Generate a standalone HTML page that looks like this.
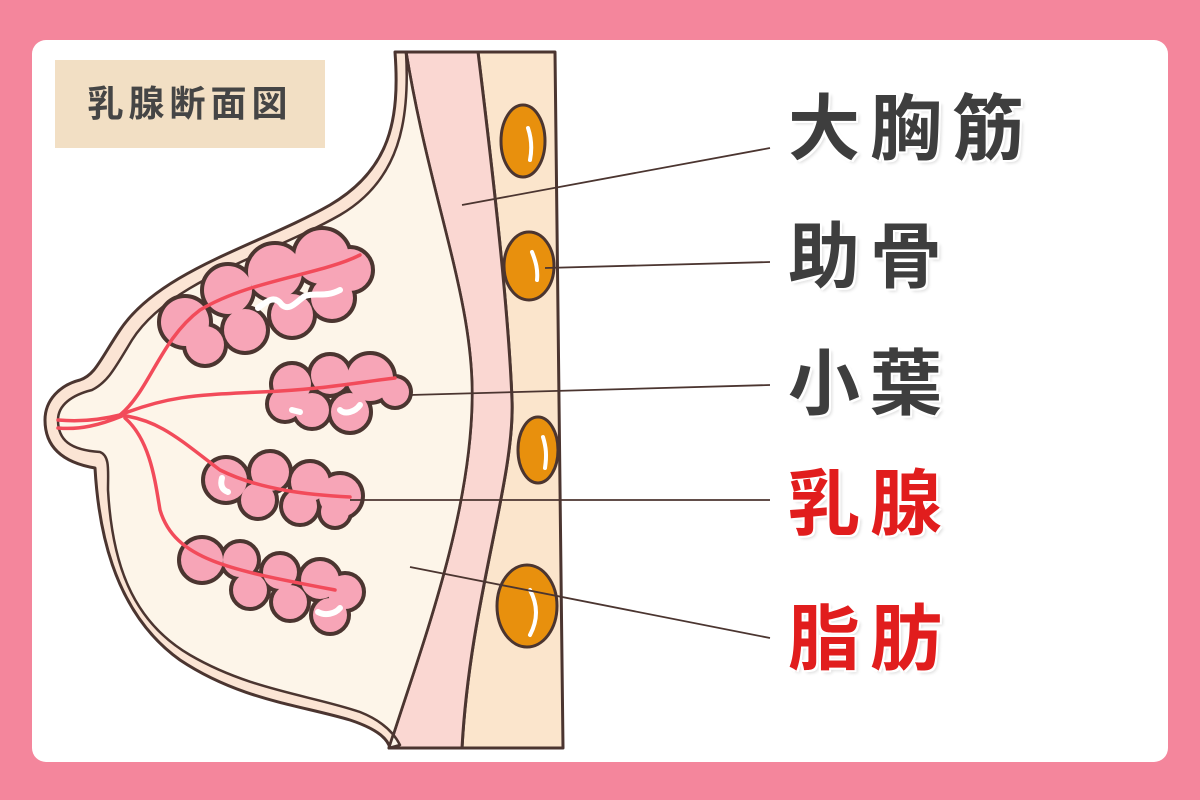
<!DOCTYPE html>
<html><head><meta charset="utf-8"><style>
html,body{margin:0;padding:0;}
body{width:1200px;height:800px;background:#f4869c;position:relative;overflow:hidden;font-family:"Liberation Sans","Noto Sans CJK JP",sans-serif;}
.card{position:absolute;left:32px;top:40px;width:1136px;height:722px;background:#fff;border-radius:14px;}
.title{position:absolute;left:55px;top:60px;width:270px;height:88px;background:#f2dfc4;color:#454545;font-weight:bold;font-size:36px;line-height:88px;text-align:center;letter-spacing:5px;}
.lbl{position:absolute;left:788px;font-weight:bold;font-size:72px;line-height:90px;color:#3e3e3e;letter-spacing:10px;text-shadow:0 0 4px #fff,2px 2px 0 #fff,-2px -2px 0 #fff,2px -2px 0 #fff,-2px 2px 0 #fff,3px 3px 3px rgba(0,0,0,.15);}
.red{color:#e11d1d;}
</style></head><body>
<div class="card"></div>
<svg width="1200" height="800" style="position:absolute;left:0;top:0">
<g stroke="#4b3530" stroke-width="3" stroke-linejoin="round">
<path d="M478,52 L555,52 L563,748 L462,748 C470,600 515,480 512,400 C508,300 490,150 478,52 Z" fill="#fbe5cc"/>
<path d="M406,52 L478,52 C490,150 508,300 512,400 C515,480 470,600 462,748 L389,748 C420,650 470,520 472,400 C474,300 430,200 406,52 Z" fill="#fad7d2"/>
<path d="M395,52 C400,120 390,170 330,205 C260,245 160,270 120,330 C100,360 95,375 80,380 C60,385 45,400 45,420 C45,445 60,462 95,468 C98,520 110,610 180,660 C240,700 300,705 350,720 C380,730 388,740 390,748 L389,748 C420,650 470,520 472,400 C474,300 430,200 406,52 Z" fill="#fbe4d4"/>
<path d="M406,52 C410,120 400,180 340,215 C270,255 170,280 132,340 C115,368 108,382 92,390 C72,395 58,405 58,420 C58,440 70,450 100,452 C110,456 108,470 108,490 C112,560 130,620 190,655 C250,690 310,695 360,712 C385,722 395,735 400,745 L389,748 C420,650 470,520 472,400 C474,300 430,200 406,52 Z" fill="#fdf5e9" stroke-width="2.5"/>
<line x1="389" y1="748" x2="563" y2="748"/>
</g>
<g fill="#e8900d" stroke="#4b3530" stroke-width="3">
<ellipse cx="523" cy="141" rx="22" ry="36"/>
<ellipse cx="529" cy="266" rx="25" ry="34"/>
<ellipse cx="538" cy="450" rx="20" ry="33"/>
<ellipse cx="527" cy="606" rx="30" ry="41"/>
</g>
<g fill="none" stroke="#fff" stroke-width="4" stroke-linecap="round">
<path d="M528,128 C532,140 532,150 530,160"/>
<path d="M532,252 C536,262 538,270 537,280"/>
<path d="M543,437 C546,447 547,455 545,468"/>
<path d="M530,590 C538,605 538,620 530,635"/>
</g>
<g fill="#f7a5b7" stroke="#4b3530" stroke-width="6">
<circle cx="185" cy="322" r="25"/><circle cx="228" cy="290" r="25"/><circle cx="275" cy="272" r="28"/><circle cx="322" cy="257" r="28"/><circle cx="350" cy="270" r="22"/><circle cx="205" cy="345" r="20"/><circle cx="245" cy="330" r="22"/><circle cx="292" cy="315" r="22"/><circle cx="332" cy="298" r="22"/>
<circle cx="292" cy="384" r="20"/><circle cx="330" cy="375" r="20"/><circle cx="370" cy="378" r="24"/><circle cx="395" cy="392" r="15"/><circle cx="312" cy="410" r="18"/><circle cx="350" cy="412" r="20"/><circle cx="285" cy="404" r="17"/>
<circle cx="226" cy="480" r="22"/><circle cx="270" cy="472" r="20"/><circle cx="310" cy="482" r="20"/><circle cx="340" cy="496" r="22"/><circle cx="258" cy="500" r="18"/><circle cx="300" cy="506" r="18"/><circle cx="335" cy="512" r="15"/>
<circle cx="202" cy="560" r="22"/><circle cx="240" cy="560" r="18"/><circle cx="280" cy="572" r="18"/><circle cx="320" cy="580" r="20"/><circle cx="345" cy="592" r="18"/><circle cx="330" cy="615" r="18"/><circle cx="290" cy="602" r="18"/><circle cx="250" cy="590" r="18"/>
</g>
<g fill="#f7a5b7">
<circle cx="185" cy="322" r="24"/><circle cx="228" cy="290" r="24"/><circle cx="275" cy="272" r="27"/><circle cx="322" cy="257" r="27"/><circle cx="350" cy="270" r="21"/><circle cx="205" cy="345" r="19"/><circle cx="245" cy="330" r="21"/><circle cx="292" cy="315" r="21"/><circle cx="332" cy="298" r="21"/>
<circle cx="292" cy="384" r="19"/><circle cx="330" cy="375" r="19"/><circle cx="370" cy="378" r="23"/><circle cx="395" cy="392" r="14"/><circle cx="312" cy="410" r="17"/><circle cx="350" cy="412" r="19"/><circle cx="285" cy="404" r="16"/>
<circle cx="226" cy="480" r="21"/><circle cx="270" cy="472" r="19"/><circle cx="310" cy="482" r="19"/><circle cx="340" cy="496" r="21"/><circle cx="258" cy="500" r="17"/><circle cx="300" cy="506" r="17"/><circle cx="335" cy="512" r="14"/>
<circle cx="202" cy="560" r="21"/><circle cx="240" cy="560" r="17"/><circle cx="280" cy="572" r="17"/><circle cx="320" cy="580" r="19"/><circle cx="345" cy="592" r="17"/><circle cx="330" cy="615" r="17"/><circle cx="290" cy="602" r="17"/><circle cx="250" cy="590" r="17"/>
</g>
<g fill="none" stroke="#fff" stroke-width="6" stroke-linecap="round">
<path d="M258,308 C268,300 275,295 282,305 C290,312 298,300 305,296 C315,292 325,298 340,290"/>
<path d="M340,410 C345,415 355,412 360,405"/>
<path d="M292,410 L300,412"/>
<path d="M222,478 C220,485 222,490 228,492"/>
<path d="M318,612 C325,616 335,614 340,608"/>
</g>
<g fill="none" stroke="#f24b5a" stroke-width="3.5" stroke-linecap="round">
<path d="M58,420 C80,422 100,420 120,415"/>
<path d="M58,428 C80,430 100,425 122,416"/>
<path d="M120,415 C150,390 160,340 200,310 C250,280 320,275 360,255"/>
<path d="M120,415 C170,395 200,395 260,392 C320,390 360,382 395,378"/>
<path d="M120,415 C160,420 180,440 220,470 C260,490 310,495 350,497"/>
<path d="M125,418 C150,440 155,480 160,510 C175,560 230,570 335,590"/>
</g>
<g stroke="#4b3530" stroke-width="1.8">
<line x1="462" y1="205" x2="770" y2="148"/>
<line x1="545" y1="268" x2="770" y2="262"/>
<line x1="410" y1="395" x2="770" y2="385"/>
<line x1="350" y1="500" x2="770" y2="500"/>
<line x1="410" y1="567" x2="770" y2="638"/>
</g>
</svg>
<div class="title">乳腺断面図</div>
<div class="lbl" style="top:85px">大胸筋</div>
<div class="lbl" style="top:213px">助骨</div>
<div class="lbl" style="top:340px">小葉</div>
<div class="lbl red" style="top:460px">乳腺</div>
<div class="lbl red" style="top:595px">脂肪</div>
</body></html>
